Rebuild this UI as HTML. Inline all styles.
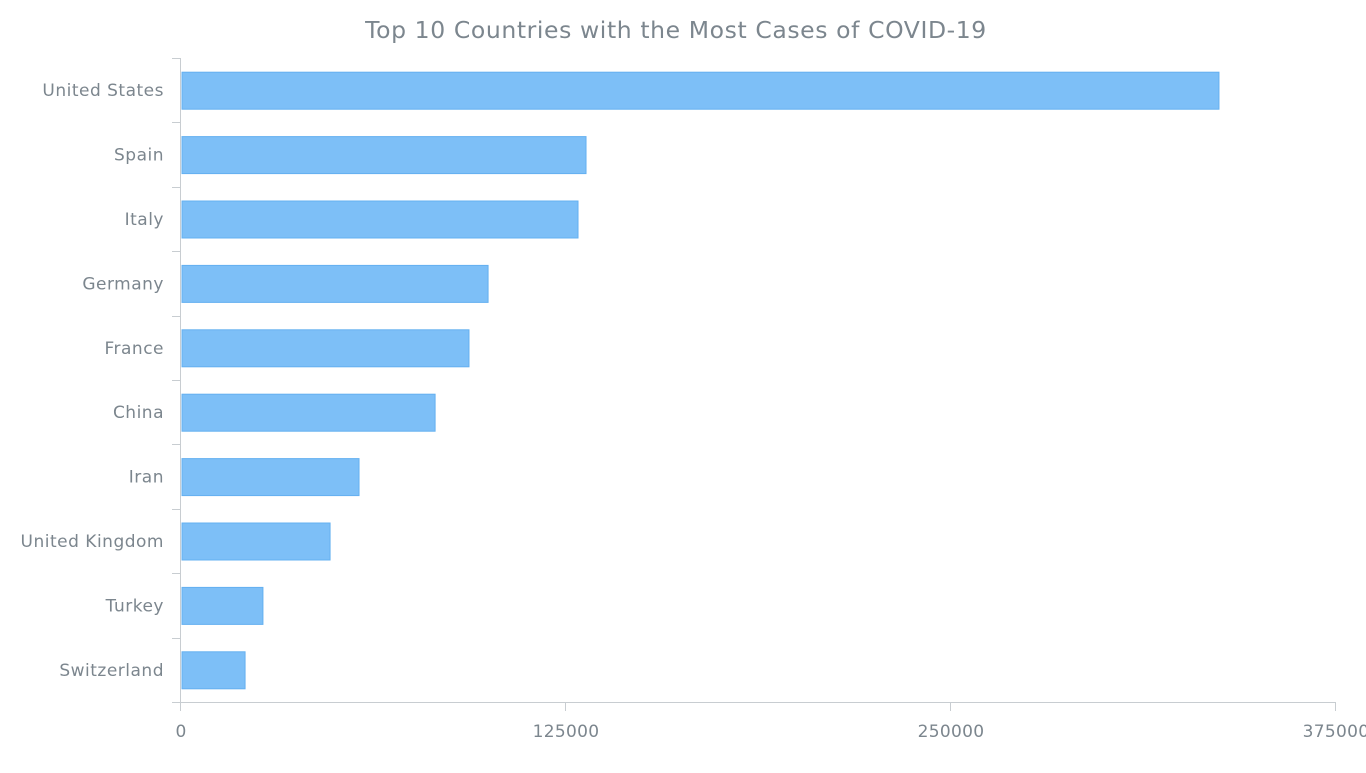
<!DOCTYPE html>
<html><head><meta charset="utf-8"><style>
body{margin:0;background:#fff;}
svg text{font-family:"DejaVu Sans","Liberation Sans",sans-serif;fill:#7c868e;}
</style></head><body>
<svg id="chart" width="1366" height="768">
<text x="676" y="38" text-anchor="middle" font-size="23.5" letter-spacing="0.6">Top 10 Countries with the Most Cases of COVID-19</text>
<g id="g"></g>
</svg>
<script>
const categories=["United States","Spain","Italy","Germany","France","China","Iran","United Kingdom","Turkey","Switzerland"];
const values=[337000,131500,128900,99700,93500,82500,57800,48400,26600,20800];
const ticks=[0,125000,250000,375000];
const x0=181,x1=1336,xmax=375000,yTop=58,yBot=702;
const xs=v=>x0+(x1-x0)*v/xmax;
const band=(yBot-yTop)/categories.length;
const g=document.getElementById('g');
const NS='http://www.w3.org/2000/svg';
function mk(t,a){const e=document.createElementNS(NS,t);for(const k in a)e.setAttribute(k,a[k]);g.appendChild(e);return e;}
let e=mk('line',{x1:x0-0.5,x2:x0-0.5,y1:yTop,y2:yBot,stroke:'#c8cdd1'});


e=mk('line',{x1:x0-0.5,x2:x1,y1:yBot+0.5,y2:yBot+0.5,stroke:'#c8cdd1'});


for(let i=0;i<=categories.length;i++){
  const y=Math.round(yTop+i*band)+0.5;
  e=mk('line',{x1:x0-9,x2:x0,y1:y,y2:y,stroke:'#c8cdd1'});
  
  
}
categories.forEach((c,i)=>{
  const cy=yTop+(i+0.5)*band;
  const t=mk('text',{x:164,y:cy+6,'text-anchor':'end','font-size':17,'letter-spacing':0.5});
  t.textContent=c;
  
  
  const r=mk('rect',{x:x0+1,y:cy-18,width:xs(values[i])-x0-1,height:37,fill:'#7dbff7',stroke:'#64b0f0','stroke-width':1});
  
  
});
ticks.forEach(v=>{
  const x=Math.round(xs(v))-0.5;
  e=mk('line',{x1:x,x2:x,y1:yBot,y2:yBot+9,stroke:'#c8cdd1'});
  
  
  const t=mk('text',{x:xs(v),y:737,'text-anchor':'middle','font-size':17,'letter-spacing':0.3});
  t.textContent=v;
  
  
});
</script>
</body></html>
